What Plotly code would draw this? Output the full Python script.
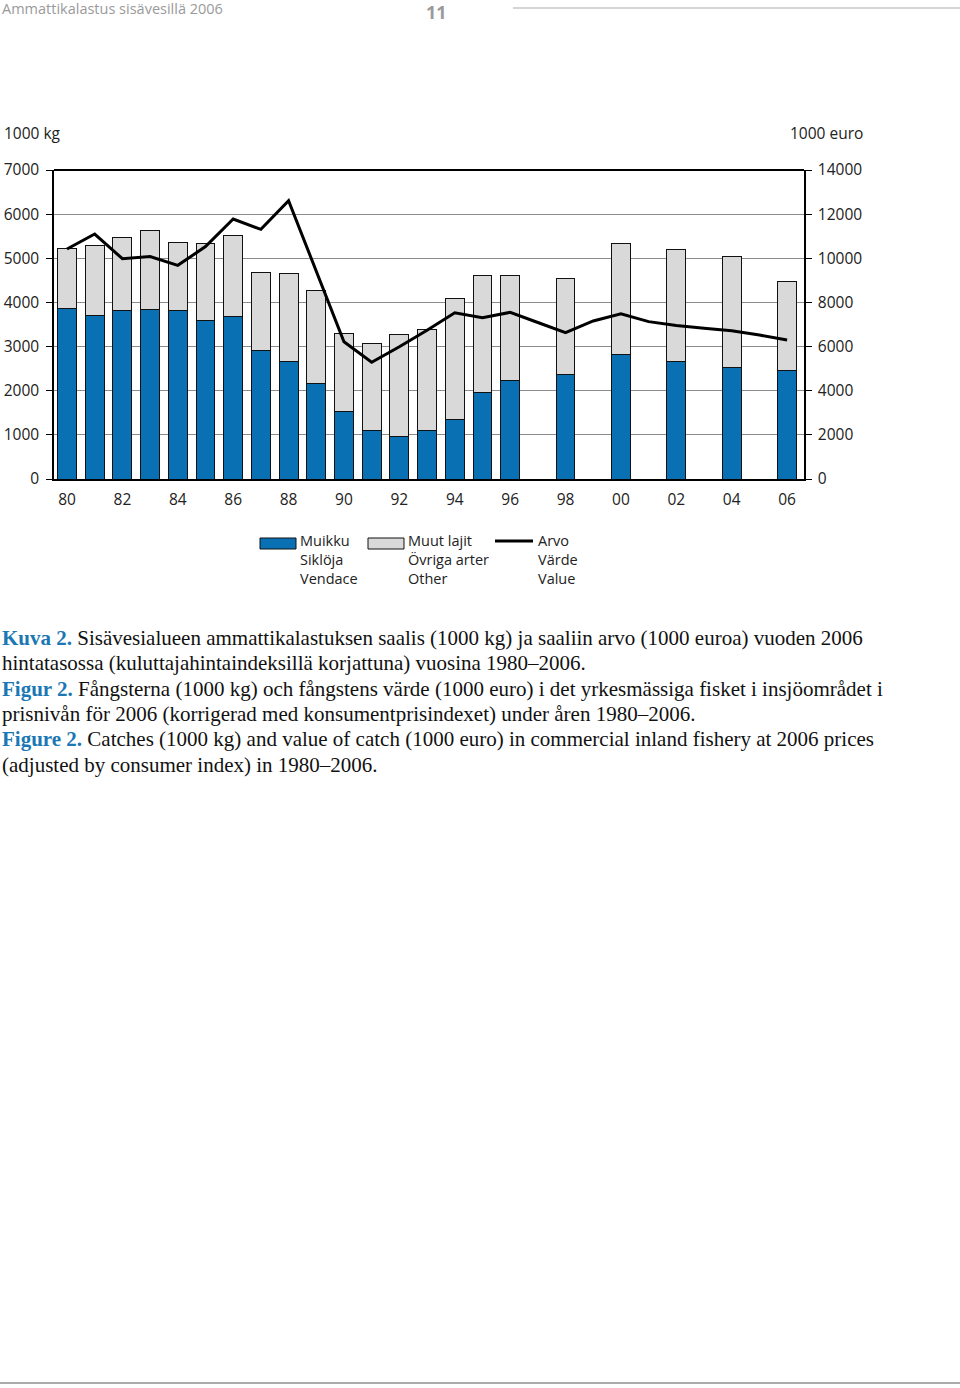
import plotly.graph_objects as go

# ---------------- data ----------------
bar_years = [1980, 1981, 1982, 1983, 1984, 1985, 1986, 1987, 1988, 1989, 1990,
             1991, 1992, 1993, 1994, 1995, 1996, 1998, 2000, 2002, 2004, 2006]
muikku = [3860, 3710, 3810, 3850, 3810, 3580, 3680, 2920, 2670, 2170, 1520,
          1100, 970, 1090, 1340, 1960, 2240, 2370, 2810, 2670, 2530, 2460]
muut_lajit = [1370, 1570, 1650, 1780, 1540, 1750, 1830, 1760, 1980, 2110, 1770,
              1980, 2300, 2290, 2750, 2660, 2370, 2180, 2530, 2530, 2520, 2020]

value_years = list(range(1980, 2007))
arvo = [10420, 11100, 9980, 10080, 9680, 10530, 11780, 11310, 12610, 9400,
        6220, 5290, 5990, 6740, 7530, 7310, 7550, 7090, 6630, 7160,
        7480, 7130, 6950, 6830, 6720, 6520, 6300]

x_tickvals = [1980, 1982, 1984, 1986, 1988, 1990, 1992, 1994, 1996, 1998, 2000, 2002, 2004, 2006]
x_ticktext = ['80', '82', '84', '86', '88', '90', '92', '94', '96', '98', '00', '02', '04', '06']
y_left_ticks = [0, 1000, 2000, 3000, 4000, 5000, 6000, 7000]
y_right_ticks = [0, 2000, 4000, 6000, 8000, 10000, 12000, 14000]

legend_labels = [["Muikku", "Siklöja", "Vendace"],
                 ["Muut lajit", "Övriga arter", "Other"],
                 ["Arvo", "Värde", "Value"]]

caption_lines = [
    ("Kuva 2.", " Sisävesialueen ammattikalastuksen saalis (1000 kg) ja saaliin arvo (1000 euroa) vuoden 2006"),
    ("", "hintatasossa (kuluttajahintaindeksillä korjattuna) vuosina 1980–2006."),
    ("Figur 2.", " Fångsterna (1000 kg) och fångstens värde (1000 euro) i det yrkesmässiga fisket i insjöområdet i"),
    ("", "prisnivån för 2006 (korrigerad med konsumentprisindexet) under åren 1980–2006."),
    ("Figure 2.", " Catches (1000 kg) and value of catch (1000 euro) in commercial inland fishery at 2006 prices"),
    ("", "(adjusted by consumer index) in 1980–2006."),
]

# ---------------- styling ----------------
W, H = 960, 1388
L, R, T, B = 54, 804, 170, 479
BLUE = "#0a70b4"
GRAY = "#d9d9d9"
CAP_BLUE = "#1b78b4"
SANS = "Open Sans"
TXT = "#222222"


def px(xp):
    return (xp - L) / (R - L)


def py(yp):
    return (B - yp) / (B - T)


fig = go.Figure()
fig.add_trace(go.Bar(x=bar_years, y=muikku, name="Muikku", marker=dict(color=BLUE, line=dict(color="#111", width=1)),
                     width=0.68, showlegend=False))
fig.add_trace(go.Bar(x=bar_years, y=muut_lajit, name="Muut lajit", marker=dict(color=GRAY, line=dict(color="#111", width=1)),
                     width=0.68, showlegend=False))
fig.add_trace(go.Scatter(x=value_years, y=arvo, yaxis="y2", mode="lines", name="Arvo",
                         line=dict(color="black", width=3), showlegend=False))

fig.update_layout(
    width=W, height=H,
    margin=dict(l=L, r=W - R, t=T, b=H - B, pad=0, autoexpand=False),
    paper_bgcolor="white", plot_bgcolor="white",
    barmode="stack",
    font=dict(family=SANS, size=15, color=TXT),
    xaxis=dict(range=[1979.53, 2006.61], tickvals=x_tickvals, ticktext=x_ticktext, automargin=False,
               showgrid=False, zeroline=False, showline=True, linecolor="black", linewidth=1.5,
               ticks="", ticklabelstandoff=6, tickfont=dict(size=15.5, color=TXT)),
    yaxis=dict(range=[0, 7000], tickvals=y_left_ticks, showgrid=True, gridcolor="#8c8c8c", gridwidth=1,
               zeroline=False, showline=True, linecolor="black", linewidth=1.5, automargin=False,
               ticks="outside", ticklen=6, tickcolor="black", tickwidth=1, tickformat="d",
               ticklabelstandoff=4, tickfont=dict(size=15.5, color=TXT)),
    yaxis2=dict(range=[0, 14000], tickvals=y_right_ticks, overlaying="y", side="right",
                showgrid=False, zeroline=False, showline=True, linecolor="black", linewidth=1.5,
                automargin=False, tickformat="d",
                ticks="outside", ticklen=6, tickcolor="black", tickwidth=1,
                ticklabelstandoff=3, tickfont=dict(size=15.5, color=TXT)),
)

shapes = []
annotations = []

# top border of plot
shapes.append(dict(type="line", xref="paper", yref="paper", x0=0, x1=1, y0=1, y1=1,
                   line=dict(color="black", width=2)))

# axis unit labels
annotations.append(dict(xref="paper", yref="paper", x=px(2), y=py(133), xanchor="left", yanchor="middle",
                        text="1000 kg", showarrow=False, font=dict(family=SANS, size=15.5, color=TXT)))
annotations.append(dict(xref="paper", yref="paper", x=px(865), y=py(133), xanchor="right", yanchor="middle",
                        text="1000 euro", showarrow=False, font=dict(family=SANS, size=15.5, color=TXT)))

# header
annotations.append(dict(xref="paper", yref="paper", x=px(0), y=py(8), xanchor="left", yanchor="middle",
                        text="Ammattikalastus sisävesillä 2006", showarrow=False,
                        font=dict(family=SANS, size=14.5, color="#9a9a9a")))
annotations.append(dict(xref="paper", yref="paper", x=px(436), y=py(12), xanchor="center", yanchor="middle",
                        text="<b>11</b>", showarrow=False,
                        font=dict(family=SANS, size=18, color="#9a9a9a")))
shapes.append(dict(type="line", xref="paper", yref="paper", x0=px(513), x1=px(960), y0=py(8), y1=py(8),
                   line=dict(color="#aaaaaa", width=1)))
# footer line
shapes.append(dict(type="line", xref="paper", yref="paper", x0=px(0), x1=px(960), y0=py(1383), y1=py(1383),
                   line=dict(color="#aaaaaa", width=2)))

# legend (custom)
shapes.append(dict(type="rect", xref="paper", yref="paper", x0=px(260), x1=px(296), y0=py(549), y1=py(538),
                   fillcolor=BLUE, line=dict(color="#111", width=1)))
shapes.append(dict(type="rect", xref="paper", yref="paper", x0=px(368), x1=px(404), y0=py(549), y1=py(538),
                   fillcolor=GRAY, line=dict(color="#111", width=1)))
shapes.append(dict(type="line", xref="paper", yref="paper", x0=px(495), x1=px(533), y0=py(541), y1=py(541),
                   line=dict(color="black", width=3)))
legend_x = [298, 406, 536]
for lx, labels in zip(legend_x, legend_labels):
    annotations.append(dict(xref="paper", yref="paper", x=px(lx), y=py(559),
                            xanchor="left", yanchor="middle", align="left", text="<br>".join(labels),
                            showarrow=False, font=dict(family=SANS, size=14.5, color=TXT)))

# caption
cap_y = [638, 663, 689, 714, 739, 765]
for (bold, rest), cy in zip(caption_lines, cap_y):
    txt = (f"<b><span style='color:{CAP_BLUE}'>{bold}</span></b>" if bold else "") + rest
    annotations.append(dict(xref="paper", yref="paper", x=px(0), y=py(cy), xanchor="left", yanchor="middle",
                            text=txt, showarrow=False,
                            font=dict(family="Liberation Serif", size=21, color="#111111")))

fig.update_layout(shapes=shapes, annotations=annotations)
fig.write_html("out.html", config={"displayModeBar": False},
               post_script="document.body.style.margin='0';")
